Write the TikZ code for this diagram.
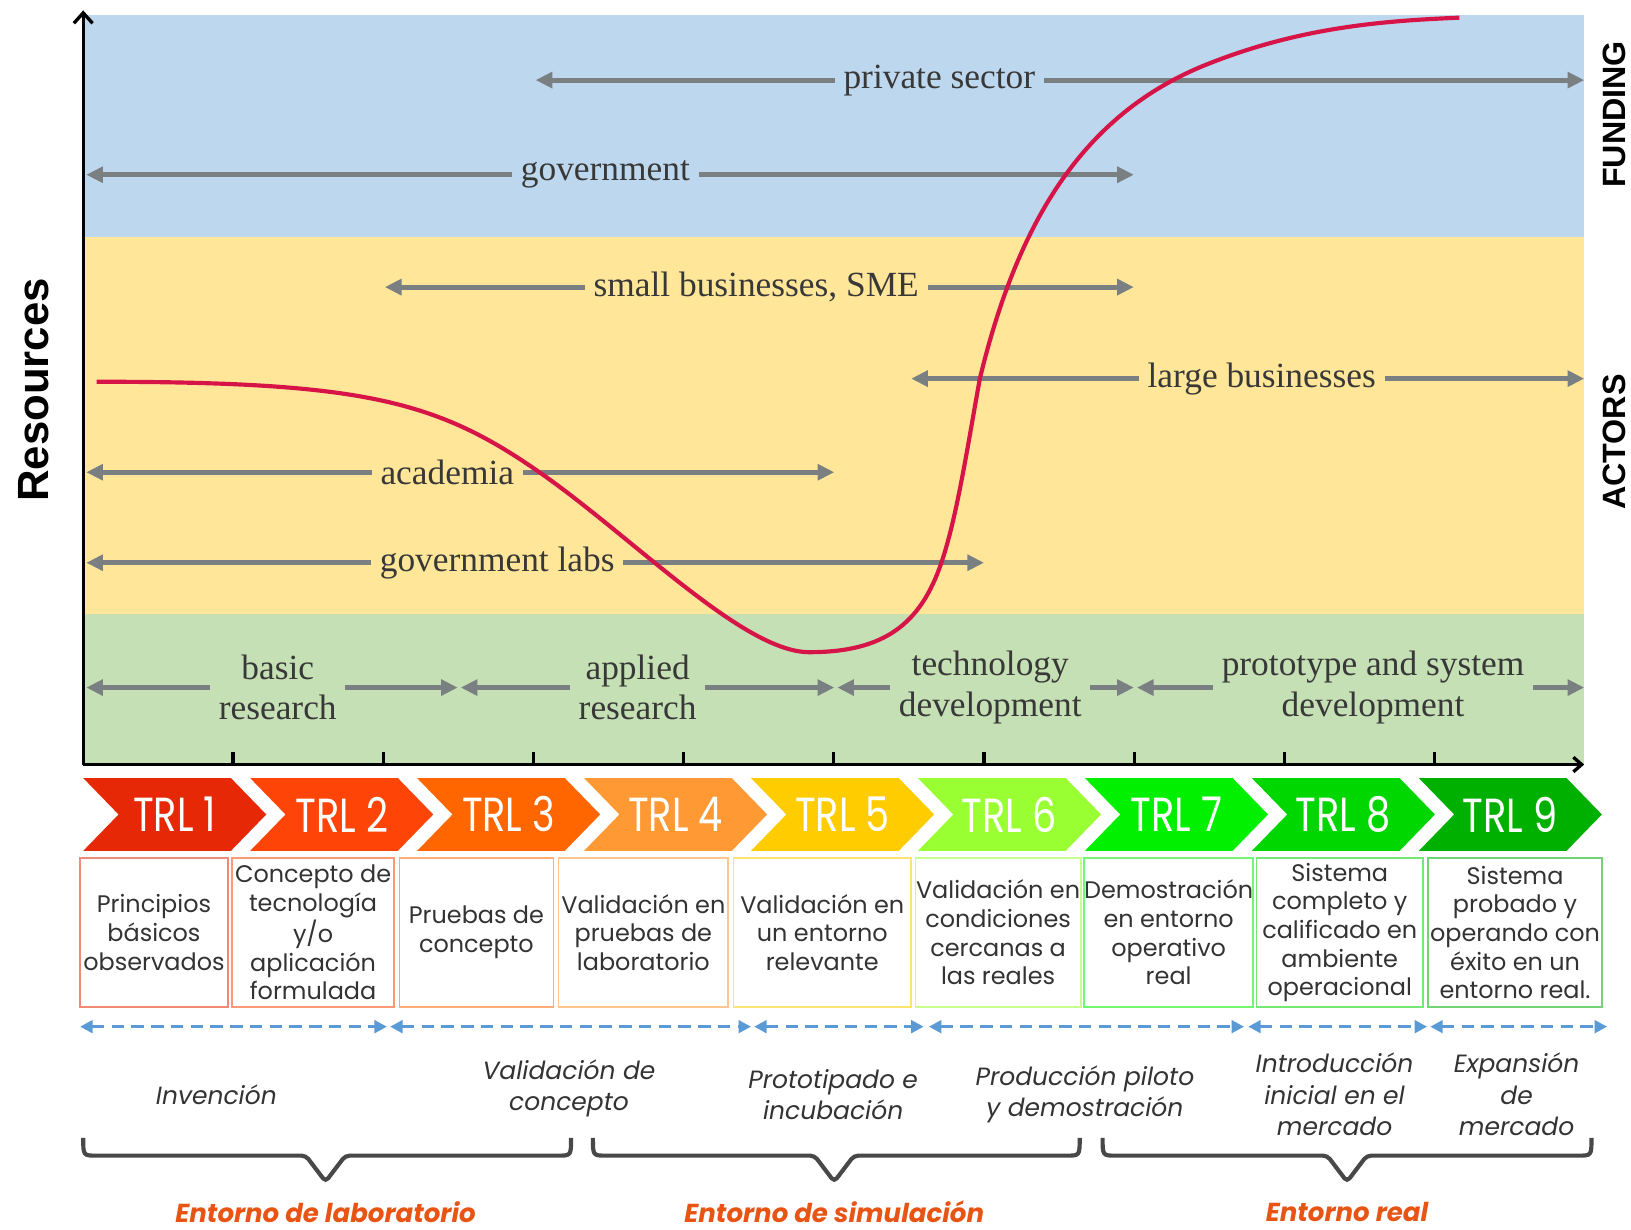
\documentclass[tikz,border=0pt]{standalone}
\usepackage{fontspec}
\setmainfont{Liberation Serif}
\setsansfont{Liberation Sans}
\newfontfamily\gothic{Poppins}
\newfontfamily\trlfont[FakeStretch = 0.8]{Poppins}
\usetikzlibrary{arrows.meta}

\definecolor{fundblue}{RGB}{189,215,238}
\definecolor{actoryellow}{RGB}{255,230,153}
\definecolor{stagegreen}{RGB}{197,224,180}
\definecolor{arrowgrey}{RGB}{122,127,130}
\definecolor{curvered}{RGB}{214,20,72}
\definecolor{dashblue}{RGB}{91,155,213}
\definecolor{bracegrey}{RGB}{72,72,72}
\definecolor{envorange}{RGB}{232,84,20}
\definecolor{trlA}{RGB}{230,40,6}
\definecolor{trlB}{RGB}{255,68,8}
\definecolor{trlC}{RGB}{255,102,0}
\definecolor{trlD}{RGB}{255,153,51}
\definecolor{trlE}{RGB}{255,204,0}
\definecolor{trlF}{RGB}{153,255,51}
\definecolor{trlG}{RGB}{0,240,0}
\definecolor{trlH}{RGB}{0,214,0}
\definecolor{trlI}{RGB}{0,176,0}

\begin{document}
\begin{tikzpicture}[x = 0.5pt, y = -0.5pt,
    garrow/.style = {draw = arrowgrey, line width = 2.4pt, -{Triangle[length = 8pt, width = 7.5pt]}},
    glabel/.style = {text = black!78, font = \fontsize{17}{19.5}\selectfont, align = center, inner xsep = 4pt, inner ysep = 0pt},
    trllabel/.style = {text = white, font = \trlfont\fontsize{23}{23}\selectfont},
    descbox/.style = {draw, line width = 0.8pt, text = black!80, font = \gothic\fontsize{11.5}{13.8}\selectfont, align = center, minimum height = 71.5pt, inner sep = 0pt},
    phasearrow/.style = {draw = dashblue, line width = 1.6pt, dash pattern = on 6pt off 3.5pt, {Triangle[length = 6pt, width = 6pt]}-{Triangle[length = 6pt, width = 6pt]}},
    phaselabel/.style = {text = black!80, font = \gothic\itshape\fontsize{12}{15}\selectfont, align = center},
    envbrace/.style = {draw = bracegrey, line width = 2pt, rounded corners = 2pt},
    envlabel/.style = {text = envorange, font = \gothic\bfseries\itshape\fontsize{12.5}{15}\selectfont},
    sidelabel/.style = {rotate = 90, font = \sffamily\bfseries\fontsize{15.5}{18}\selectfont}]

  \fill[white] (0,0) rectangle (1568,1182);
  \path[use as bounding box] (0,0) rectangle (1568,1182);

  \fill[fundblue] (80,14) rectangle (1523,228);
  \fill[actoryellow] (80,228) rectangle (1523,590);
  \fill[stagegreen] (80,590) rectangle (1523,735);

  \coordinate (origin) at (80,735);
  \coordinate (ytop) at (80,10);
  \coordinate (xend) at (1523,735);
  \draw[line width = 1.6pt, -{Straight Barb[length = 5pt, width = 9pt, line width = 1.6pt]}] (origin) -- (ytop);
  \draw[line width = 1.6pt, -{Straight Barb[length = 4pt, width = 7pt, line width = 1.6pt]}] (origin) -- (xend);
  \foreach \k in {0,...,8}
    \draw[line width = 1.5pt] (224 + 144.4*\k, 735) -- ++(0,-12);

  \foreach \n/\x/\y/\a/\b/\t in {ps/903/77/515/1523/private sector,
                                 gv/582/168/83/1090/government,
                                 sb/727/276/370/1090/{small businesses, SME},
                                 lb/1213/364/876/1523/large businesses,
                                 ac/430/454/83/802/academia,
                                 gl/478/541/83/946/government labs,
                                 br/267/661/83/440/{basic\\research},
                                 ar/613/661/443/802/{applied\\research},
                                 td/952/661/805/1090/{technology\\development},
                                 pd/1320/661/1093/1523/{prototype and system\\development}} {
    \node[glabel] (\n) at (\x,\y) {\t};
    \coordinate (\n L) at (\a,\y);
    \coordinate (\n R) at (\b,\y);
    \draw[garrow] (\n) -- (\n L);
    \draw[garrow] (\n) -- (\n R);
  }

  \draw[curvered, line width = 2pt] (93,367) .. controls (350,367) and (420,385) .. (520,455)
    .. controls (610,518) and (715,627) .. (778,627)
    .. controls (850,627) and (885,600) .. (905,541)
    .. controls (920,497) and (930,430) .. (942,364)
    .. controls (978,215) and (1040,110) .. (1160,62)
    .. controls (1250,26) and (1330,20) .. (1403,17);

  \node[sidelabel, font = \sffamily\bfseries\fontsize{21}{25}\selectfont] (resources) at (32,375) {Resources};
  \node[sidelabel] (funding) at (1552,110) {FUNDING};
  \node[sidelabel] (actors) at (1552,425) {ACTORS};

  \foreach \i/\c in {1/trlA, 2/trlB, 3/trlC, 4/trlD, 5/trlE, 6/trlF, 7/trlG, 8/trlH, 9/trlI} {
    \pgfmathsetmacro\xl{80 + 160.5*(\i - 1)}
    \fill[\c] (\xl,748) -- ++(142,0) -- ++(34,35) -- ++(-34,35) -- ++(-142,0) -- ++(34,-35) -- cycle;
    \node[trllabel] (trl\i) at (\xl + 88, 783) {TRL \i};
  }

  \foreach \i/\a/\b/\c/\t in {1/77/219/trlA/{Principios\\básicos\\observados},
                              2/223/379/trlB/{Concepto de\\tecnología\\y\slash o\\aplicación\\formulada},
                              3/384/532/trlC/{Pruebas de\\concepto},
                              4/537/700/trlD/{Validación en\\pruebas de\\laboratorio},
                              5/705/876/trlE/{Validación en\\un entorno\\relevante},
                              6/880/1039/trlF/{Validación en\\condiciones\\cercanas a\\las reales},
                              7/1044/1203/trlG/{Demostración\\en entorno\\operativo\\real},
                              8/1208/1368/trlH/{Sistema\\completo y\\calificado en\\ambiente\\operacional},
                              9/1373/1540/trlI/{Sistema\\probado y\\operando con\\éxito en un\\entorno real.}} {
    \pgfmathsetmacro\bw{(\b - \a)*0.5}
    \node[descbox, draw = \c!55!white, minimum width = \bw pt] (box\i) at ({(\a + \b)/2}, 896.5) {\t};
  }

  \foreach \a/\b [count = \j] in {77/372, 375/722, 725/888, 893/1196, 1200/1372, 1375/1545} {
    \coordinate (ph\j L) at (\a,987);
    \coordinate (ph\j R) at (\b,987);
    \draw[phasearrow] (ph\j L) -- (ph\j R);
  }

  \node[phaselabel] (inv) at (208,1052) {Invención};
  \node[phaselabel] (val) at (547,1046) {Validación de\\concepto};
  \node[phaselabel] (pro) at (801,1052) {Prototipado e\\incubación};
  \node[phaselabel] (pil) at (1043,1052) {Producción piloto\\y demostración};
  \node[phaselabel] (int) at (1283,1052) {Introducción\\inicial en el\\mercado};
  \node[phaselabel] (exp) at (1458,1052) {Expansión\\de\\mercado};

  \foreach \a/\m/\b/\t [count = \j] in {80/313/549/Entorno de laboratorio,
                                        570/802/1038/Entorno de simulación,
                                        1060/1295/1530/Entorno real} {
    \draw[envbrace] (\a,1094) .. controls (\a,1111) .. (\a + 17,1111) -- (\m - 19,1111)
      -- (\m,1136) -- (\m + 19,1111) -- (\b - 17,1111) .. controls (\b,1111) .. (\b,1094);
    \node[envlabel] (env\j) at (\m,1165) {\t};
  }
\end{tikzpicture}
\end{document}
